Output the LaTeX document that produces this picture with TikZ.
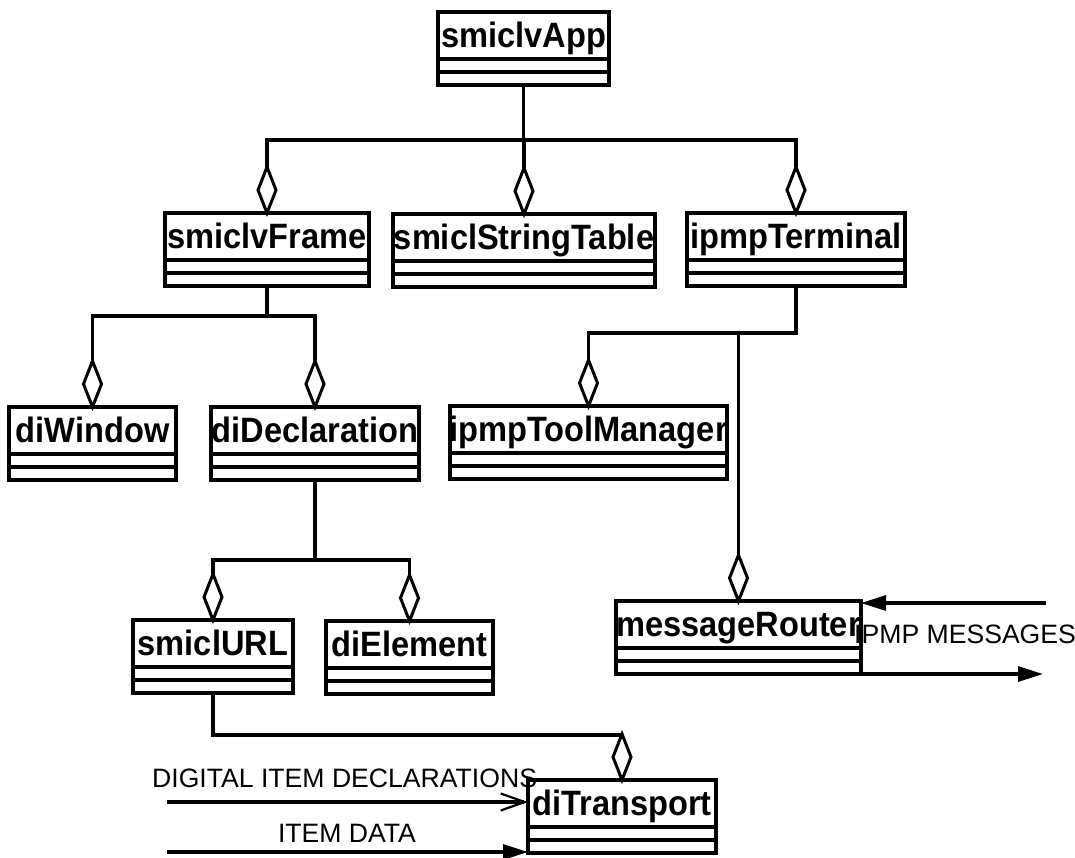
\documentclass[tikz,border=0pt]{standalone}
\usepackage{fontspec}
\setmainfont{Liberation Sans}
\usetikzlibrary{shapes.geometric,arrows.meta,calc}

\tikzset{
  classbox/.style={draw, line width=3.2pt, minimum height=73pt, inner sep=0pt, outer sep=0pt},
  sepline/.style={line width=3.2pt},
  classname/.style={font=\fontsize{32.6}{36}\selectfont\bfseries, anchor=base, inner sep=0pt},
  aggr/.style={diamond, draw, fill=white, line width=3pt, minimum width=18pt,
               minimum height=46pt, inner sep=0pt, outer sep=0pt, anchor=south},
  conn/.style={line width=3.2pt},
  flowlbl/.style={font=\fontsize{26.6}{30}\selectfont, inner sep=0pt},
  flow/.style={line width=3.2pt},
}

% UML class box: name, left x, right x, top y (downwards), class name
\newcommand\umlclass[5]{%
  \node[classbox, minimum width={#3-#2}, anchor=north west] (#1) at (#2,-#4) {};
  \draw[sepline] ($(#1.north west)+(0,-47)$) -- ($(#1.north east)+(0,-47)$);
  \draw[sepline] ($(#1.north west)+(0,-60)$) -- ($(#1.north east)+(0,-60)$);
  \node[classname] (#1-name) at ($(#1.north)+(0,-35)$) {\scalebox{1}[1.08]{#5}};
}

\begin{document}
\begin{tikzpicture}[x=1pt,y=1pt]
\useasboundingbox (0,0) rectangle (1075,-857);

% classes
\umlclass{app}{438}{609}{12}{smiclvApp}
\umlclass{frame}{165}{369}{213}{smiclvFrame}
\umlclass{table}{393}{655}{214}{smiclStringTable}
\umlclass{terminal}{687}{905}{213}{ipmpTerminal}
\umlclass{window}{9}{176}{407}{diWindow}
\umlclass{decl}{211}{419}{407}{diDeclaration}
\umlclass{toolmgr}{450}{727}{406}{ipmpToolManager}
\umlclass{url}{133}{293}{620}{smiclURL}
\umlclass{element}{326}{493}{621}{diElement}
\umlclass{router}{616}{861}{601}{messageRouter}
\umlclass{transport}{528}{716}{780}{diTransport}

% aggregation diamonds on the parts
\node[aggr] (dframe) at (frame.north) {};
\node[aggr] (dtable) at (table.north) {};
\node[aggr] (dterminal) at (terminal.north) {};
\node[aggr] (dwindow) at (window.north) {};
\node[aggr] (ddecl) at (decl.north) {};
\node[aggr] (dtoolmgr) at (toolmgr.north) {};
\node[aggr] (drouter) at (router.north) {};
\node[aggr] (durl) at (url.north) {};
\node[aggr] (delement) at (element.north) {};
\node[aggr] (dtransport) at (transport.north) {};

% junctions of the tree
\coordinate (j1) at ($(app.south)+(0,-55)$);
\coordinate (j2) at ($(frame.south)+(0,-30)$);
\coordinate (j3) at ($(terminal.south)+(0,-47)$);
\coordinate (j4) at ($(decl.south)+(0,-80)$);
\coordinate (j5) at ($(url.south)+(0,-42)$);

% aggregation connectors
\draw[conn] (app.south) -- (j1) -| (dframe.north);
\draw[conn] (j1) -| (dterminal.north);
\draw[conn] (j1) -| (dtable.north);
\draw[conn] (frame.south) -- (j2) -| (dwindow.north);
\draw[conn] (j2) -| (ddecl.north);
\draw[conn] (terminal.south) -- (j3) -| (dtoolmgr.north);
\draw[conn] (drouter.north |- j3) -- (drouter.north);
\draw[conn] (decl.south) -- (j4) -| (durl.north);
\draw[conn] (j4) -| (delement.north);
\draw[conn] (url.south) -- (j5) -| (dtransport.north);

% external message flows
\coordinate (msgin) at (1046,-603);
\coordinate (msgout) at (1043,-674);
\coordinate (didin) at (167,-802);
\coordinate (datain) at (167,-852);

\draw[flow, -{Triangle[length=25pt,width=15pt]}] (msgin) -- (msgin -| router.east);
\draw[flow, -{Triangle[length=25pt,width=15pt]}] (msgout -| router.east) -- (msgout);
\draw[flow, -{Straight Barb[length=24pt,width=17pt,line width=2.2pt]}] (didin) -- (didin -| transport.west);
\draw[flow, -{Triangle[length=25pt,width=15pt]}] (datain) -- (datain -| transport.west);

\node[flowlbl, anchor=west] (ipmplbl) at (854,-634.5) {IPMP MESSAGES};
\node[flowlbl, anchor=west] (didlbl) at (152,-778.5) {DIGITAL ITEM DECLARATIONS};
\node[flowlbl] (datalbl) at (347,-833.5) {ITEM DATA};

\end{tikzpicture}
\end{document}
